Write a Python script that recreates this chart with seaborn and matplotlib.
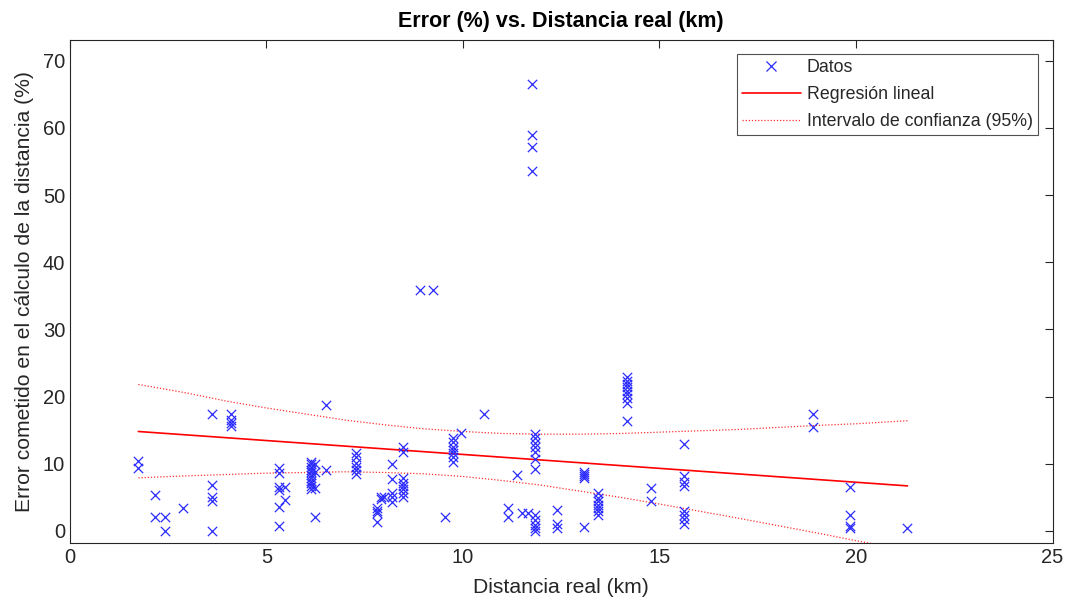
import numpy as np
import pandas as pd
import matplotlib
matplotlib.use('Agg')
import matplotlib.pyplot as plt
import seaborn as sns
from matplotlib.lines import Line2D

# distancia real (km) y error (%), agrupados por columna
dist_km = ([1.74] * 2 + [2.16] * 2 + [2.43] * 2 + [2.88] + [3.62] * 5 + [4.10] * 4
           + [5.32] * 6 + [5.47] * 2 + [6.14] * 11 + [6.23] * 4 + [6.51] * 2
           + [7.29] * 6 + [7.82] * 4 + [7.92] * 2 + [8.0] + [8.2] * 5 + [8.47] * 8
           + [8.9, 9.24, 9.55] + [9.74] * 7 + [9.95, 10.53] + [11.14] * 2
           + [11.38, 11.5, 11.65] + [11.75] * 4 + [11.82] * 12 + [12.39] * 3
           + [13.07] * 5 + [13.43] * 7 + [14.17] * 9 + [14.78] * 2 + [15.63] * 8
           + [18.91] * 2 + [19.84] * 4 + [21.31])
error_pct = [10.4, 9.4,
             5.4, 2.1,
             2.0, 0.05,
             3.4,
             17.4, 6.9, 5.1, 4.5, 0.05,
             17.4, 16.5, 16.0, 15.6,
             9.4, 8.6, 6.5, 6.1, 3.5, 0.75,
             6.5, 4.6,
             10.3, 9.9, 9.5, 9.1, 8.7, 8.3, 7.9, 7.5, 7.1, 6.7, 6.3,
             10.0, 8.8, 6.4, 2.1,
             18.8, 9.0,
             11.65, 10.97, 10.16, 9.57, 9.08, 8.48,
             3.4, 3.0, 2.6, 1.4,
             5.1, 4.8,
             5.0,
             9.97, 7.69, 5.7, 5.0, 4.36,
             12.5, 11.8, 7.84, 7.2, 6.7, 6.2, 5.7, 5.1,
             35.9, 35.9, 2.1,
             13.8, 13.3, 12.5, 12.05, 11.6, 11.05, 10.3,
             14.6, 17.4,
             3.4, 2.1,
             8.33, 2.6, 2.6,
             66.6, 59.0, 57.2, 53.6,
             14.5, 13.8, 13.1, 12.5, 11.8, 10.7, 9.2, 2.4, 1.6, 0.9, 0.4, 0.0,
             3.1, 1.0, 0.4,
             8.8, 8.5, 8.2, 7.9, 0.6,
             5.6, 4.9, 4.4, 3.9, 3.4, 2.9, 2.4,
             22.96, 22.37, 21.88, 21.38, 20.88, 20.39, 19.75, 19.1, 16.4,
             6.35, 4.5,
             12.9, 8.1, 7.3, 6.7, 2.9, 2.4, 1.7, 1.1,
             17.4, 15.4,
             6.6, 2.3, 0.7, 0.4,
             0.4]

# recta de regresion (extremos) e intervalo de confianza
fit_x = [1.74, 21.31]
fit_y = [14.8, 6.7]
band_x = [1.74, 3, 4, 5, 6, 7, 8, 9, 10, 11, 12, 13, 14, 15, 16, 17, 18, 19, 20, 21.31]
band_upper = [21.8, 20.5, 19.3, 18.3, 17.4, 16.5, 15.8, 15.2, 14.8, 14.5, 14.4, 14.4,
              14.5, 14.7, 14.9, 15.1, 15.4, 15.7, 15.95, 16.4]
band_lower = [7.9, 8.2, 8.4, 8.6, 8.7, 8.8, 8.7, 8.5, 8.1, 7.5, 6.8, 5.9,
              5.0, 4.0, 2.95, 1.9, 0.8, -0.3, -1.45, -2.9]

df = pd.DataFrame({'dist': dist_km, 'err': error_pct})

sns.set_style('white')
plt.rcParams['font.family'] = ['Liberation Sans', 'DejaVu Sans']

fig = plt.figure(figsize=(10.68, 6.04), dpi=100)
ax = fig.add_axes([0.0655, 0.101, 0.920, 0.833])

blue = '#2b2bff'
sns.scatterplot(data=df, x='dist', y='err', marker='x', color=blue, s=45,
                linewidth=0.9, ax=ax, legend=False, zorder=3)
sns.lineplot(x=fit_x, y=fit_y, color='#ff0000', linewidth=1.2, ax=ax, zorder=2)
ax.plot(band_x, band_upper, color='#ff3030', linestyle=(0, (1, 1.5)), linewidth=0.9, zorder=2)
ax.plot(band_x, band_lower, color='#ff3030', linestyle=(0, (1, 1.5)), linewidth=0.9, zorder=2)

ax.set_xlim(0, 25)
ax.set_ylim(-1.8, 73.1)
ax.set_xticks(range(0, 26, 5))
ax.set_yticks(range(0, 71, 10))

dark = '#262626'
for sp in ax.spines.values():
    sp.set_color(dark)
    sp.set_linewidth(0.8)
ax.tick_params(direction='in', top=True, right=True, length=6, width=0.8,
               colors=dark, labelsize=14.5)

ax.set_xlabel('Distancia real (km)', fontsize=15.2, color=dark, labelpad=8)
ax.set_ylabel('Error cometido en el cálculo de la distancia (%)', fontsize=15.2,
              color=dark, labelpad=6)
ax.set_title('Error (%) vs. Distancia real (km)', fontsize=15.5, fontweight='bold',
             color='black', pad=9)

handles = [
    Line2D([], [], color=blue, marker='x', linestyle='none', markersize=6.5,
           markeredgewidth=0.9),
    Line2D([], [], color='#ff0000', linewidth=1.2),
    Line2D([], [], color='#ff3030', linestyle=(0, (1, 1.5)), linewidth=0.9),
]
labels = ['Datos', 'Regresión lineal', 'Intervalo de confianza (95%)']
leg = ax.legend(handles, labels, loc='upper right', fontsize=12.8, frameon=True,
                fancybox=False, edgecolor=dark, handlelength=3.3, handletextpad=0.35,
                borderaxespad=0.8, labelspacing=0.55, borderpad=0.3)
leg.get_frame().set_linewidth(0.8)
for t in leg.get_texts():
    t.set_color(dark)

fig.savefig('out.png', dpi=100)
